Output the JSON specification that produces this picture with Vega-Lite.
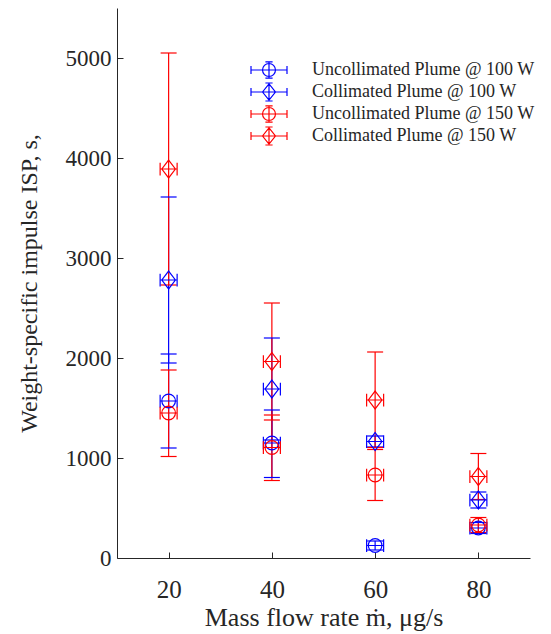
{
  "$schema": "https://vega.github.io/schema/vega-lite/v6.json",
  "width": 413,
  "height": 550,
  "autosize": {"type": "none"},
  "padding": {"left": 117, "top": 8, "right": 21, "bottom": 76},
  "background": "white",
  "config": {
    "view": {"stroke": null},
    "font": "Liberation Serif, DejaVu Serif, serif",
    "axis": {
      "domainColor": "#262626",
      "tickColor": "#262626",
      "labelColor": "#262626",
      "titleColor": "#262626",
      "labelFont": "Liberation Serif, DejaVu Serif, serif",
      "titleFont": "Liberation Serif, DejaVu Serif, serif",
      "labelFontSize": 23,
      "titleFontSize": 24,
      "titleFontWeight": "normal",
      "grid": false,
      "tickSize": -6,
      "domainWidth": 1,
      "tickWidth": 1,
      "format": "d"
    },
    "legend": {
      "labelFont": "Liberation Serif, DejaVu Serif, serif"
    }
  },
  "data": {
    "values": [
      {"series": "Uncollimated Plume @ 100 W", "plume": "Uncollimated", "x": 20, "y": 1570, "lo": 1100, "hi": 2040},
      {"series": "Uncollimated Plume @ 100 W", "plume": "Uncollimated", "x": 40, "y": 1150, "lo": 805, "hi": 1480},
      {"series": "Uncollimated Plume @ 100 W", "plume": "Uncollimated", "x": 60, "y": 125, "lo": 80, "hi": 170},
      {"series": "Uncollimated Plume @ 100 W", "plume": "Uncollimated", "x": 80, "y": 300, "lo": 245, "hi": 355},
      {"series": "Collimated Plume @ 100 W", "plume": "Collimated", "x": 20, "y": 2780, "lo": 1950, "hi": 3610},
      {"series": "Collimated Plume @ 100 W", "plume": "Collimated", "x": 40, "y": 1690, "lo": 1180, "hi": 2200},
      {"series": "Collimated Plume @ 100 W", "plume": "Collimated", "x": 60, "y": 1165, "lo": 1110, "hi": 1220},
      {"series": "Collimated Plume @ 100 W", "plume": "Collimated", "x": 80, "y": 580, "lo": 500, "hi": 660},
      {"series": "Uncollimated Plume @ 150 W", "plume": "Uncollimated", "x": 20, "y": 1450, "lo": 1015, "hi": 1880},
      {"series": "Uncollimated Plume @ 150 W", "plume": "Uncollimated", "x": 40, "y": 1105, "lo": 775, "hi": 1430},
      {"series": "Uncollimated Plume @ 150 W", "plume": "Uncollimated", "x": 60, "y": 830, "lo": 575, "hi": 1085},
      {"series": "Uncollimated Plume @ 150 W", "plume": "Uncollimated", "x": 80, "y": 330, "lo": 255, "hi": 405},
      {"series": "Collimated Plume @ 150 W", "plume": "Collimated", "x": 20, "y": 3890, "lo": 2730, "hi": 5050},
      {"series": "Collimated Plume @ 150 W", "plume": "Collimated", "x": 40, "y": 1965, "lo": 1380, "hi": 2550},
      {"series": "Collimated Plume @ 150 W", "plume": "Collimated", "x": 60, "y": 1580, "lo": 1105, "hi": 2060},
      {"series": "Collimated Plume @ 150 W", "plume": "Collimated", "x": 80, "y": 815, "lo": 585, "hi": 1045}
    ]
  },
  "encoding": {
    "x": {
      "field": "x",
      "type": "quantitative",
      "scale": {"domain": [10, 90], "nice": false, "zero": false},
      "axis": {"values": [20, 40, 60, 80], "labelPadding": 25, "labelFontSize": 25, "title": "Mass flow rate ṁ, μg/s", "titleFontSize": 26, "titlePadding": 2}
    },
    "color": {
      "field": "series", "type": "nominal",
      "scale": {"domain": ["Uncollimated Plume @ 100 W", "Collimated Plume @ 100 W", "Uncollimated Plume @ 150 W", "Collimated Plume @ 150 W"], "range": ["#0000ff", "#0000ff", "#ff0000", "#ff0000"]},
      "legend": {
        "orient": "none", "legendX": 133, "legendY": 51, "title": null,
        "labelFont": "Liberation Serif, DejaVu Serif, serif", "labelFontSize": 18, "labelColor": "#262626", "labelLimit": 0,
        "symbolSize": 320, "labelOffset": 24, "rowPadding": 0, "clipHeight": 22,
        "encode": {"symbols": {"update": {
          "shape": {"signal": "indexof(datum.label, 'Uncollimated') >= 0 ? 'M-1,-0.22V0.22M1,-0.22V0.22M-1,0H1M0,-0.45V0.45M-0.2,-0.45H0.2M-0.2,0.45H0.2M0.36,0A0.36,0.36 0 1,1 -0.36,0A0.36,0.36 0 1,1 0.36,0' : 'M-1,-0.22V0.22M1,-0.22V0.22M-1,0H1M0,-0.5V0.5M-0.2,-0.5H0.2M-0.2,0.5H0.2M0,-0.45L0.36,0L0,0.45L-0.36,0Z'"},
          "size": {"value": 1296},
          "fill": {"value": "transparent"},
          "stroke": {"scale": "color", "field": "value"},
          "strokeWidth": {"value": 1.2},
          "opacity": {"value": 1}
        }}}
      }
    }
  },
  "layer": [
    {
      "mark": {"type": "rule", "strokeWidth": 1.2},
      "encoding": {
        "y": {
          "field": "lo",
          "type": "quantitative",
          "scale": {"domain": [0, 5500], "nice": false},
          "axis": {"values": [0, 1000, 2000, 3000, 4000, 5000], "labelPadding": 12, "title": "Weight-specific impulse ISP, s,", "titlePadding": 24}
        },
        "y2": {"field": "hi"}
      }
    },
    {
      "mark": {"type": "point", "shape": "M-1,0H1", "size": 256, "filled": false, "strokeWidth": 1.2, "opacity": 1},
      "encoding": {
        "y": {"field": "lo", "type": "quantitative"}
      }
    },
    {
      "mark": {"type": "point", "shape": "M-1,0H1", "size": 256, "filled": false, "strokeWidth": 1.2, "opacity": 1},
      "encoding": {
        "y": {"field": "hi", "type": "quantitative"}
      }
    },
    {
      "transform": [{"filter": "datum.plume === 'Uncollimated'"}],
      "mark": {"type": "point", "filled": false, "strokeWidth": 1.2, "size": 289, "opacity": 1,
        "shape": "M-1,-0.75V0.75M1,-0.75V0.75M-1,0H1M0.8,0A0.8,0.8 0 1,1 -0.8,0A0.8,0.8 0 1,1 0.8,0"},
      "encoding": {
        "y": {"field": "y", "type": "quantitative"}
      }
    },
    {
      "transform": [{"filter": "datum.plume === 'Collimated'"}],
      "mark": {"type": "point", "filled": false, "strokeWidth": 1.2, "size": 289, "opacity": 1,
        "shape": "M-1,-0.75V0.75M1,-0.75V0.75M-1,0H1M0,-1.05L0.8,0L0,1.05L-0.8,0Z"},
      "encoding": {
        "y": {"field": "y", "type": "quantitative"}
      }
    }
  ]
}
